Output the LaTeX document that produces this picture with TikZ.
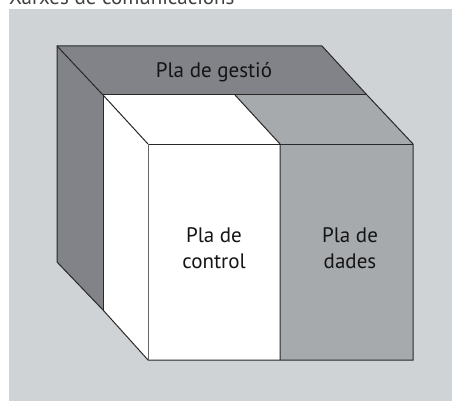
\documentclass[tikz,border=0pt]{standalone}
\usepackage{fontspec}
\setmainfont{PT Sans}
\definecolor{panelgray}{RGB}{208,211,214}
\definecolor{darkface}{RGB}{129,131,137}
\definecolor{lightface}{RGB}{167,170,173}
\definecolor{edgecol}{RGB}{40,40,40}
\definecolor{txtcol}{RGB}{20,20,20}
\begin{document}
\begin{tikzpicture}[x=1pt,y=-1pt,
  edge/.style={draw=edgecol, line width=1pt, line join=miter},
  lbl/.style={font=\fontsize{21}{26}\selectfont, text=txtcol, align=center, inner sep=0pt}]
\useasboundingbox (0,0) rectangle (452,401);
\fill[panelgray] (9,9) rectangle (452,401);
\node[lbl, anchor=base west, text=black!75] (title) at (9,4.5) {Xarxes de comunicacions};
% dark top face
\fill[darkface] (57,46) -- (322,46) -- (367,95) -- (103,95) -- cycle;
% left face
\fill[darkface] (57,46) -- (103,95) -- (103,310) -- (57,262) -- cycle;
% white side and top
\fill[white] (103,95) -- (148,144) -- (148,360) -- (103,310) -- cycle;
\fill[white] (103,95) -- (235,95) -- (280,144) -- (148,144) -- cycle;
% light top
\fill[lightface] (235,95) -- (367,95) -- (413,144) -- (280,144) -- cycle;
% fronts
\fill[white] (148,144) rectangle (280,360);
\fill[lightface] (280,144) rectangle (413,360);
% edges
\draw[edge] (57,262) -- (57,46) -- (322,46) -- (367,95) -- (413,144) -- (413,360) -- (148,360) -- (103,310) -- (57,262);
\draw[edge] (57,46) -- (103,95) -- (148,144);
\draw[edge] (103,95) -- (367,95);
\draw[edge] (103,95) -- (103,310);
\draw[edge] (148,144) -- (413,144);
\draw[edge, draw=black!60, line width=0.8pt] (148,144) -- (148,360);
\draw[edge] (235,95) -- (280,144) -- (280,360);
% labels
\node[lbl, anchor=base] (gestio) at (214,77.5) {Pla de gestió};
\node[lbl, anchor=base] (control) at (214,268.3) {Pla de\\control};
\node[lbl, anchor=base] (dades) at (350,268.3) {Pla de\\dades};
\end{tikzpicture}
\end{document}
